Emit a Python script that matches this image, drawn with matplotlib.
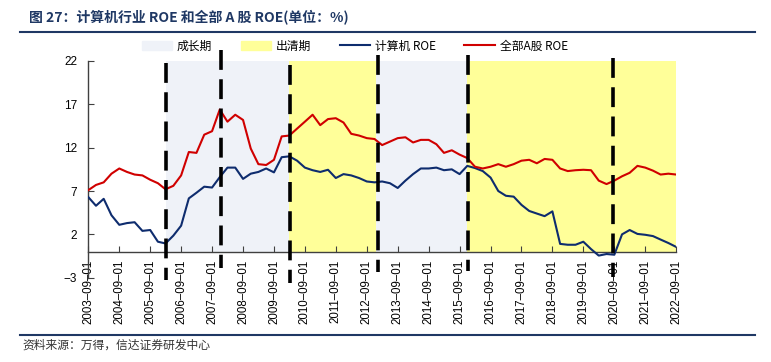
import pandas as pd
import matplotlib
matplotlib.use("Agg")
import matplotlib.pyplot as plt
import matplotlib.dates as mdates
from matplotlib.patches import Patch
from matplotlib.lines import Line2D

plt.rcParams['font.family'] = ['Liberation Sans', 'Noto Sans CJK SC', 'DejaVu Sans']
plt.rcParams['axes.unicode_minus'] = True

# quarterly data, 2003-09 .. 2022-09
dates = pd.date_range("2003-09-01", "2022-09-01", freq="3MS")

computer_roe = [6.3, 5.3, 6.1, 4.2, 3.1, 3.3, 3.4, 2.4, 2.5, 1.15,
                0.95, 1.85, 3.0, 6.15, 6.8, 7.5, 7.4, 8.6, 9.7, 9.7,
                8.4, 9.0, 9.2, 9.6, 9.15, 10.9, 11.0, 10.5, 9.7, 9.4,
                9.2, 9.45, 8.5, 8.95, 8.8, 8.5, 8.1, 8.0, 8.1, 7.9,
                7.35, 8.2, 8.95, 9.6, 9.6, 9.7, 9.4, 9.5, 8.95, 9.9,
                9.65, 9.3, 8.55, 7.0, 6.45, 6.35, 5.4, 4.7, 4.4, 4.1,
                4.65, 0.9, 0.8, 0.8, 1.15, 0.3, -0.45, -0.27, -0.35, 2.0,
                2.5, 2.05, 1.95, 1.8, 1.4, 1.0, 0.55]

all_a_roe = [7.1, 7.7, 8.0, 9.0, 9.6, 9.2, 8.9, 8.8, 8.3, 7.9,
             7.2, 7.6, 8.8, 11.5, 11.4, 13.5, 13.9, 16.4, 15.0, 15.8,
             15.2, 11.9, 10.1, 10.0, 10.6, 13.3, 13.4, 14.2, 15.0, 15.8,
             14.6, 15.3, 15.4, 14.9, 13.6, 13.4, 13.1, 13.0, 12.3, 12.7,
             13.1, 13.2, 12.6, 12.9, 12.9, 12.4, 11.4, 11.7, 11.2, 10.8,
             9.8, 9.6, 9.8, 10.1, 9.8, 10.1, 10.5, 10.6, 10.2, 10.7,
             10.6, 9.6, 9.3, 9.4, 9.45, 9.4, 8.2, 7.8, 8.2, 8.7,
             9.1, 9.9, 9.7, 9.35, 8.9, 9.0, 8.9]

phase_names = ["成长期", "出清期", "成长期", "出清期"]
phase_start = pd.to_datetime(["2006-03-01", "2010-03-01", "2012-12-15", "2015-12-01"])
phase_end = pd.to_datetime(["2010-03-01", "2012-12-15", "2015-12-01", "2022-09-01"])

cut_dates = pd.to_datetime(["2006-03-01", "2007-12-20", "2010-03-15",
                            "2013-01-10", "2015-12-05", "2020-08-15"])
cut_top = [21.8, 23.3, 21.5, 22.7, 22.7, 22.3]
cut_bottom = [-3.3, -1.9, -3.6, -2.4, -2.2, -2.9]

phase_colors = {"成长期": "#EFF2F8", "出清期": "#FFFF99"}
blue = "#0E2C6E"
red = "#D00000"
navy = "#1F3864"

fig = plt.figure(figsize=(7.71, 3.62), dpi=100)
ax = fig.add_axes([0.1145, 0.2329, 0.7625, 0.5986])

for name, s, e in zip(phase_names, phase_start, phase_end):
    ax.fill_between([s, e], 0, 22, color=phase_colors[name], lw=0, zorder=0)

ax.plot(dates, computer_roe, color=blue, lw=1.5, zorder=3)
ax.plot(dates, all_a_roe, color=red, lw=1.5, zorder=3)

for d, top, bot in zip(cut_dates, cut_top, cut_bottom):
    ax.plot([d, d], [top, bot], color="black", lw=2.6, dashes=(5.5, 2.6),
            solid_capstyle='butt', dash_capstyle='butt', clip_on=False, zorder=5)

ax.set_xlim(dates[0], dates[-1])
ax.set_ylim(-3, 22)
ax.set_yticks([-3, 2, 7, 12, 17, 22])

ax.xaxis.set_major_locator(mdates.MonthLocator(bymonth=9, bymonthday=1))
ax.xaxis.set_major_formatter(mdates.DateFormatter("%Y–%m–%d"))
ax.tick_params(axis='x', direction='in', length=4, pad=6, labelsize=8.3,
               labelrotation=90, color="#404040")
ax.tick_params(axis='y', direction='in', length=4, pad=8, labelsize=8.5,
               color="#404040")

ax.spines['top'].set_visible(False)
ax.spines['right'].set_visible(False)
ax.spines['bottom'].set_position(('data', 0))
for sp in ('left', 'bottom'):
    ax.spines[sp].set_color("#404040")
    ax.spines[sp].set_linewidth(1.0)
ax.set_facecolor("none")

handles = [Patch(color=phase_colors["成长期"]),
           Patch(color=phase_colors["出清期"]),
           Line2D([], [], color=blue, lw=1.5),
           Line2D([], [], color=red, lw=1.5)]
labels = ["成长期", "出清期", "计算机 ROE", "全部A股 ROE"]
fig.legend(handles, labels, loc='center', bbox_to_anchor=(0.46, 0.873), ncol=4,
           frameon=False, handlelength=2.6, handleheight=0.8, handletextpad=0.4,
           columnspacing=2.4, prop={'family': ['Noto Sans CJK SC'], 'size': 8.5})

fig.text(0.038, 0.953, "图 27：计算机行业 ROE 和全部 A 股 ROE(单位：%)",
         family=['Noto Sans CJK SC'], fontsize=10, fontweight='bold',
         color=navy, va='center', ha='left')
fig.add_artist(Line2D([20 / 771, 755 / 771], [1 - 32.3 / 362] * 2,
                      transform=fig.transFigure, color=navy, lw=1.5))
fig.add_artist(Line2D([20 / 771, 755 / 771], [1 - 335 / 362] * 2,
                      transform=fig.transFigure, color=navy, lw=1.5))
fig.text(0.029, 0.047, "资料来源：万得，信达证券研发中心",
         family=['Noto Sans CJK SC'], fontsize=8.5, style='italic',
         color="#333333", va='center', ha='left')

fig.savefig("out.png", dpi=100)
